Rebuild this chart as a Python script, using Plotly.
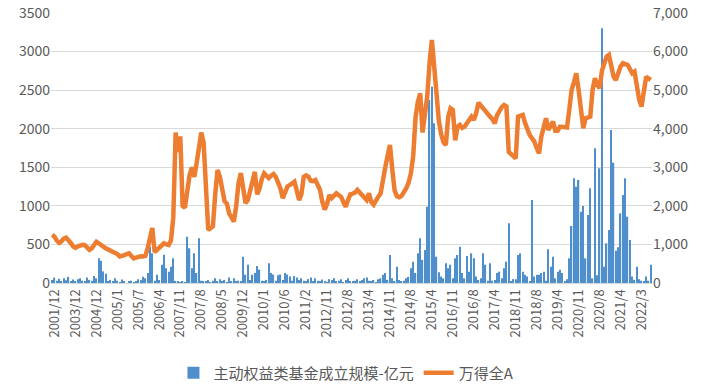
import plotly.graph_objects as go

# Tick labels shown on the category axis (every 9th category, starting at index 1)
tick_labels = ["2001/12", "2003/12", "2004/12", "2005/1", "2005/7", "2006/4", "2007/11", "2007/8",
               "2008/5", "2009/12", "2010/1", "2010/6", "2011/2", "2012/11", "2012/8", "2013/4",
               "2014/11", "2014/8", "2015/4", "2016/11", "2016/8", "2017/4", "2018/11", "2018/8",
               "2019/4", "2020/11", "2020/8", "2021/4", "2022/3"]

# 主动权益类基金成立规模-亿元 (left axis)
fund_size = [
    40, 70, 30, 55, 20, 60, 35, 80, 25, 45,
    15, 50, 60, 30, 20, 70, 40, 30, 90, 60,
    320, 290, 150, 120, 20, 40, 15, 60, 30, 10,
    45, 25, 0, 15, 30, 10, 20, 50, 40, 80,
    60, 130, 470, 385, 30, 108, 40, 237, 367, 190,
    147, 212, 320, 20, 15, 10, 25, 10, 600, 450,
    190, 385, 130, 580, 30, 20, 15, 40, 10, 30,
    60, 20, 50, 15, 40, 10, 70, 25, 60, 20,
    30, 15, 341, 108, 237, 40, 108, 130, 220, 173,
    30, 20, 40, 255, 130, 110, 30, 100, 110, 40,
    130, 110, 85, 30, 90, 70, 40, 60, 30, 20,
    50, 70, 25, 60, 30, 15, 45, 20, 10, 50,
    40, 60, 20, 30, 50, 10, 40, 60, 20, 15,
    30, 50, 20, 40, 60, 70, 30, 20, 40, 10,
    50, 60, 108, 130, 40, 363, 60, 20, 212, 40,
    20, 30, 60, 80, 190, 277, 130, 385, 580, 300,
    428, 990, 2372, 2545, 2070, 341, 140, 85, 60, 255,
    190, 237, 60, 320, 363, 471, 130, 60, 350, 147,
    385, 320, 85, 40, 60, 385, 237, 30, 255, 30,
    40, 130, 147, 60, 190, 277, 774, 20, 50, 50,
    363, 385, 147, 108, 85, 20, 1076, 85, 108, 108,
    130, 147, 30, 436, 212, 340, 60, 147, 173, 130,
    20, 50, 320, 739, 1357, 1249, 1335, 925, 999, 320,
    882, 1227, 60, 1746, 100, 1487, 3302, 212, 514, 687,
    1983, 1560, 419, 462, 903, 1141, 1357, 860, 557, 85,
    40, 212, 50, 30, 20, 85, 30, 237,
]

# 万得全A (right axis)
wind_a = [
    1250, 1200, 1100, 1040, 1080, 1150, 1175, 1120, 1040, 950,
    910, 950, 985, 990, 980, 920, 860, 900, 1000, 1070,
    1030, 970, 940, 900, 870, 855, 830, 810, 750, 690,
    700, 725, 750, 770, 700, 640, 660, 680, 690, 685,
    700, 900, 1200, 1427, 800, 850, 900, 980, 1030, 1000,
    985, 1100, 1700, 3900, 3400, 3800, 2000, 1950, 2400, 2800,
    3000, 2750, 3100, 3500, 3900, 3650, 2200, 1380, 1420, 1470,
    2300, 2930, 2750, 2450, 2120, 2060, 1800, 1700, 1590, 2000,
    2590, 2850, 2500, 2070, 2150, 2400, 2700, 2880, 2300, 2450,
    2700, 2845, 2780, 2720, 2780, 2826, 2750, 2600, 2450, 2200,
    2400, 2500, 2541, 2580, 2627, 2400, 2150, 2300, 2750, 2790,
    2757, 2650, 2640, 2670, 2550, 2412, 2100, 1900, 2050, 2280,
    2200, 2260, 2325, 2280, 2239, 2100, 1980, 2150, 2300, 2320,
    2343, 2412, 2350, 2282, 2200, 2152, 2325, 2100, 2030, 2150,
    2239, 2325, 2600, 3000, 3300, 3579, 2950, 2400, 2250, 2222,
    2260, 2350, 2455, 2600, 2845, 3300, 4300, 4700, 4918, 3900,
    4400, 4831, 5700, 6300, 5610, 4700, 4200, 3850, 3650, 3579,
    4300, 4529, 4485, 3700, 4050, 4097, 4020, 4050, 4140, 4200,
    4313, 4227, 4400, 4675, 4600, 4500, 4450, 4380, 4313, 4250,
    4140, 4350, 4485, 4560, 4615, 4580, 3400, 3340, 3320, 3233,
    4313, 4340, 4356, 4150, 3950, 3840, 3750, 3666, 3500, 3362,
    3800, 4054, 4270, 3968, 4100, 4184, 3950, 3950, 4054, 4040,
    4030, 4030, 4500, 5006, 5200, 5437, 5000, 4572, 4010, 4270,
    4290, 4313, 5006, 5307, 5150, 5048, 5500, 5650, 5869, 5913,
    5600, 5351, 5265, 5450, 5610, 5696, 5680, 5653, 5550, 5437,
    5480, 5100, 4750, 4572, 4960, 5351, 5300, 5265,
]

n = len(fund_size)
x_idx = list(range(n))
tick_positions = [1 + 9 * i for i in range(len(tick_labels))]

FONT = "Noto Sans CJK SC, Microsoft YaHei, sans-serif"
GRAY = "#595959"

fig = go.Figure()
fig.add_trace(go.Bar(
    x=x_idx, y=fund_size, name="主动权益类基金成立规模-亿元",
    marker=dict(color="#4F8FCB", line=dict(width=0)),
    yaxis="y",
))
fig.add_trace(go.Scatter(
    x=x_idx, y=wind_a, name="万得全A", mode="lines",
    line=dict(color="#ED7D31", width=4.5),
    yaxis="y2",
))

fig.update_layout(
    width=708, height=387,
    margin=dict(l=51, r=56, t=13, b=104, autoexpand=False),
    paper_bgcolor="white", plot_bgcolor="white",
    font=dict(family=FONT, size=14, color=GRAY),
    bargap=0.45,
    showlegend=True,
    legend=dict(orientation="h", xref="container", yref="container",
                x=0.245, xanchor="left", y=0.036, yanchor="middle",
                font=dict(size=15, color=GRAY), itemwidth=30, traceorder="normal"),
    xaxis=dict(
        range=[-0.5, n - 0.5], automargin=False,
        tickmode="array", tickvals=tick_positions, ticktext=tick_labels,
        tickangle=-90, tickfont=dict(size=13, color=GRAY),
        showgrid=False, zeroline=False,
        showline=True, linecolor="#D9D9D9", linewidth=1,
        ticks="", ticklen=0,
    ),
    yaxis=dict(
        range=[0, 3500], dtick=500, tick0=0, automargin=False,
        showgrid=True, gridcolor="#D9D9D9", gridwidth=1,
        zeroline=False, showline=False,
        tickfont=dict(size=14, color=GRAY), ticks="",
    ),
    yaxis2=dict(
        range=[0, 7000], dtick=1000, tick0=0, automargin=False,
        overlaying="y", side="right",
        showgrid=False, zeroline=False, showline=False,
        tickformat=",", tickfont=dict(size=14, color=GRAY), ticks="",
    ),
)

fig.write_html(
    "out.html",
    config={"displayModeBar": False},
    post_script="document.body.style.margin='0';document.body.style.padding='0';",
)
